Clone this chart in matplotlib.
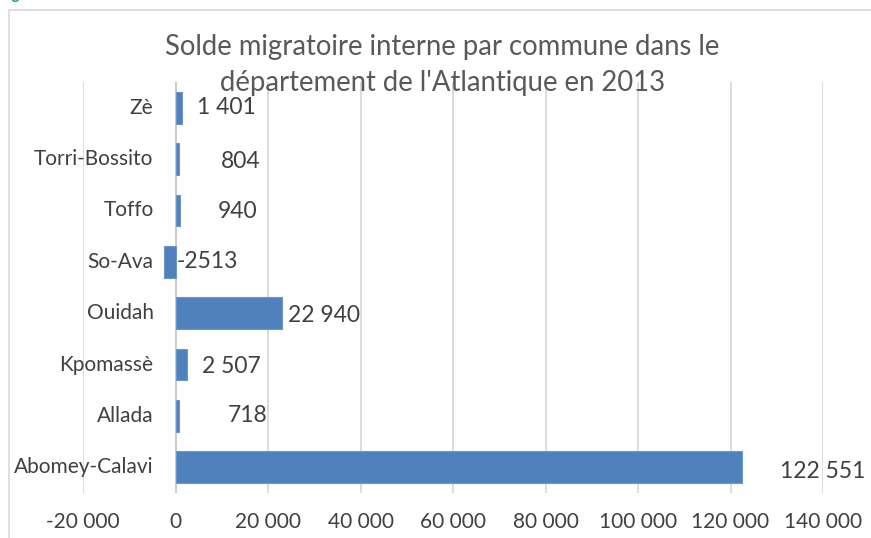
import matplotlib
matplotlib.use('Agg')
import matplotlib.pyplot as plt
from matplotlib.patches import Rectangle

# data (Excel order: first category at the bottom)
communes = ['Abomey-Calavi', 'Allada', 'Kpomassè', 'Ouidah', 'So-Ava', 'Toffo', 'Torri-Bossito', 'Zè']
solde = [122551, 718, 2507, 22940, -2513, 940, 804, 1401]
value_labels = ['122 551', '718', '2 507', '22 940', '-2513', '940', '804', '1 401']
x_ticks = [-20000, 0, 20000, 40000, 60000, 80000, 100000, 120000, 140000]
x_tick_labels = ['-20 000', '0', '20 000', '40 000', '60 000', '80 000', '100 000', '120 000', '140 000']

# hand placed data labels (pixel offsets from the bar end), like in the source
label_dx = [38, 49, 15, 6, 1, 38, 42, 15]
label_dy = [-4, 0, -2, -2, 0, -1, -2, 0]

FONT = ['Lato', 'DejaVu Sans']
TXT = '#404040'
GRID = '#d9d9d9'
BAR = '#4f81bd'

plt.rcParams['font.family'] = FONT

fig = plt.figure(figsize=(8.71, 5.38), dpi=100)
ax = fig.add_axes([83 / 871, 1 - 493 / 538, (823 - 83) / 871, (493 - 82) / 538])

ypos = list(range(len(communes)))
ax.barh(ypos, solde, height=0.62, color=BAR, edgecolor='#6d97cc', linewidth=0.8, zorder=3)

ax.set_xlim(-20000, 140000)
ax.set_ylim(-0.5, len(communes) - 0.5)
ax.set_xticks(x_ticks)
ax.set_xticklabels(x_tick_labels, fontsize=15, color=TXT)
ax.set_yticks([])
ax.tick_params(axis='x', length=0, pad=14)
ax.grid(axis='x', color=GRID, linewidth=1.3, zorder=0)
ax.set_axisbelow(True)
for s in ax.spines.values():
    s.set_visible(False)
ax.axvline(0, color='#cccccc', linewidth=1.3, zorder=2)

# category labels sit next to the zero axis
for i, name in enumerate(communes):
    ax.annotate(name, xy=(0, i), xytext=(-22, 0), textcoords='offset pixels',
                ha='right', va='center', fontsize=15, color=TXT)

for i, v in enumerate(solde):
    ax.annotate(value_labels[i], xy=(max(v, 0), i), xytext=(label_dx[i], label_dy[i]),
                textcoords='offset pixels', ha='left', va='center', fontsize=16.5, color=TXT)

fig.text(0.508, 1 - 65 / 538,
         "Solde migratoire interne par commune dans le\ndépartement de l'Atlantique en 2013",
         ha='center', va='center', fontsize=19.8, color='#595959', linespacing=1.45)

# chart frame (cut by the screenshot on the right and bottom) and caption remnant
fig.patches.append(Rectangle((9 / 871, -0.1), 1.0, 1 - 10 / 538 + 0.1, transform=fig.transFigure,
                             fill=False, edgecolor=GRID, linewidth=1.2))
fig.text(0.0, 1 + 1 / 538, 'Figure', color='#00b050', fontweight='bold', fontsize=11, va='baseline')

fig.savefig('out.png', dpi=100)
